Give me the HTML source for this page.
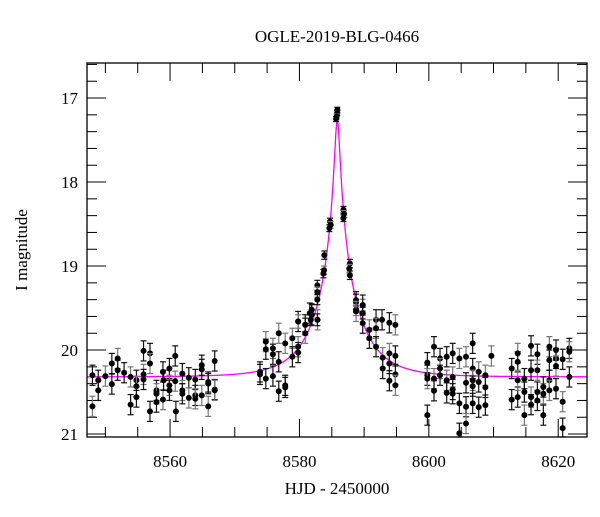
<!DOCTYPE html>
<html><head><meta charset="utf-8"><style>
body{margin:0;background:#fff;}
svg text{font-family:"Liberation Serif",serif;fill:#000;}
</style></head><body>
<svg id="chart" width="600" height="512" viewBox="0 0 600 512">
<text x="337" y="42" font-size="17" text-anchor="middle">OGLE-2019-BLG-0466</text>
<text x="337" y="494" font-size="17" text-anchor="middle">HJD - 2450000</text>
<text transform="translate(27,250) rotate(-90)" font-size="17" text-anchor="middle">I magnitude</text>
<g id="ticks"></g><g id="model"></g><g id="pts"></g>
<rect x="87" y="63" width="500" height="374" fill="none" stroke="#000" stroke-width="1.3"/>
</svg>
<script>
const times=[8548.0,8548.0,8548.9,8548.9,8550.0,8551.0,8551.0,8551.9,8551.9,8552.9,8553.9,8553.9,8554.8,8554.8,8554.8,8555.9,8555.9,8555.9,8556.9,8556.9,8556.9,8557.9,8557.9,8557.9,8558.9,8558.9,8559.0,8559.9,8559.9,8559.9,8560.8,8560.8,8560.9,8561.9,8561.9,8561.9,8562.9,8562.9,8563.9,8563.9,8563.9,8564.9,8564.9,8564.9,8565.9,8565.9,8565.9,8566.9,8566.9,8566.9,
8573.9,8573.9,8574.8,8574.8,8574.8,8575.9,8575.9,8575.9,8576.8,8576.8,8576.8,8577.8,8577.8,8577.8,8578.9,8578.9,8579.8,8579.8,8579.8,8580.9,8580.9,8581.6,8581.9,8582.8,
8585.86,8585.83,8585.75,8585.66,8584.73,8584.83,8584.63,8586.8,8586.9,8586.8,8583.85,8583.8,8583.7,8587.8,8587.7,8587.8,8582.77,8582.77,8582.77,8588.75,8588.75,8581.9,8581.75,8579.8,8580.9,8582.77,8589.78,8589.78,
8588.75,8588.75,8589.78,8589.78,8590.81,8590.81,8591.84,8591.84,8591.84,8592.77,8592.87,8592.87,8593.90,8593.90,8593.90,8593.90,8594.83,8594.83,8594.83,8594.83,
8599.77,8599.77,8599.77,8599.77,8600.80,8600.80,8600.80,8601.73,8601.73,8601.73,8602.76,8602.76,8602.76,8603.69,8603.69,8603.69,8603.69,8604.72,8604.72,8604.72,8605.75,8605.75,8605.75,8605.75,8606.78,8606.78,8606.78,8606.78,8606.78,8607.71,8607.71,8607.71,8608.74,8608.74,8608.74,8609.67,
8612.81,8612.81,8613.74,8613.74,8613.74,8613.74,8614.77,8614.77,8614.77,8615.80,8615.80,8615.80,8615.80,8616.78,8616.78,8616.78,8616.78,8617.70,8617.70,8617.70,8618.63,8618.63,8618.63,8618.63,8619.66,8619.66,8619.66,8619.66,8620.69,8620.69,8620.69,8621.72,8621.72,8621.72];
const mags=[20.30,20.67,20.36,20.48,20.31,20.16,20.405,20.10,20.24,20.27,20.32,20.65,20.36,20.43,20.56,20.01,20.29,20.35,20.04,20.16,20.73,20.48,20.52,20.62,20.26,20.59,20.36,20.22,20.42,20.48,20.07,20.37,20.73,20.28,20.48,20.52,20.33,20.57,20.35,20.54,20.58,20.18,20.23,20.54,20.38,20.40,20.67,20.13,20.47,20.48,
20.26,20.29,19.90,19.99,20.34,19.98,20.05,20.31,19.80,20.14,20.49,19.92,20.42,20.445,19.86,20.08,19.66,19.96,20.03,19.70,19.80,19.56,19.58,19.64,
17.14,17.18,17.22,17.25,18.47,18.51,18.55,18.33,18.38,18.43,18.87,19.05,19.09,18.97,19.03,19.11,19.23,19.31,19.40,19.405,19.52,19.52,19.64,19.66,19.70,19.64,19.465,19.56,
19.425,19.54,19.465,19.68,19.76,19.86,19.64,19.74,19.96,19.64,20.09,20.22,19.675,20.04,20.16,20.365,19.70,20.07,20.29,20.42,
20.15,20.30,20.34,20.775,19.96,20.34,20.485,20.10,20.22,20.30,20.08,20.36,20.51,20.04,20.32,20.47,20.52,20.10,20.635,20.99,20.08,20.39,20.675,20.875,19.92,20.22,20.36,20.43,20.635,20.26,20.38,20.68,20.30,20.445,20.655,20.07,
20.22,20.59,20.04,20.14,20.56,20.36,20.34,20.50,20.775,19.95,20.24,20.56,20.65,20.05,20.24,20.50,20.60,20.52,20.775,20.44,19.96,20.12,20.36,20.48,20.00,20.10,20.19,20.46,20.11,20.615,20.93,19.98,20.02,20.32];
const errs=times.map((t,i)=>0);
// per-point errors (mag): baseline ~0.12, peak region smaller
const errBase=0.12, errPeak=[0.03,0.03,0.03,0.03,0.04,0.04,0.04,0.04,0.04,0.04,0.05,0.05,0.05,0.05,0.05,0.05,0.06,0.06,0.06,0.07,0.07,0.07,0.07,0.08,0.08,0.07,0.07,0.07];
const xTicks=[8560,8580,8600,8620], yTicks=[17,18,19,20,21];
const t0=8585.85,u0=0.06,tE=6.3,fs=1.0,Ibase=20.32;
const X0=8547.16,X1=8624.45,Y0=16.583,Y1=21.035,L=87,R=587,T=63,B=437;
const sx=t=>L+(t-X0)/(X1-X0)*(R-L), sy=m=>T+(m-Y0)/(Y1-Y0)*(B-T);
const NS='http://www.w3.org/2000/svg';
function mk(tag,a,p){const e=document.createElementNS(NS,tag);for(const k in a)e.setAttribute(k,a[k]);p.appendChild(e);return e;}
const tg=document.getElementById('ticks');
for(let v=8550;v<=8624;v+=5){const major=v%20===0,len=major?18:10,x=sx(v);
 const a=mk('line',{x1:x,x2:x,y1:B,y2:B-len,stroke:'#000','stroke-width':1},tg);
 
 const b=mk('line',{x1:x,x2:x,y1:T,y2:T+len,stroke:'#000','stroke-width':1},tg);
 }
xTicks.forEach(v=>{const t=mk('text',{x:sx(v),y:B+30,'font-size':17,'text-anchor':'middle'},tg);t.textContent=v;
 });
for(let k=0;k<=22;k++){const v=16.6+k*0.2;if(v>21.03)break;const major=Math.abs(v-Math.round(v))<1e-6,len=major?19:10,y=sy(v);
 const a=mk('line',{x1:L,x2:L+len,y1:y,y2:y,stroke:'#000','stroke-width':1},tg);
 
 const b=mk('line',{x1:R,x2:R-len,y1:y,y2:y,stroke:'#000','stroke-width':1},tg);
 }
yTicks.forEach(v=>{const t=mk('text',{x:78,y:sy(v)+6,'font-size':17,'text-anchor':'end'},tg);t.textContent=v;
 });
// model
let d='';for(let t=X0;t<=X1;t+=0.02){const u=Math.sqrt(u0*u0+((t-t0)/tE)**2);const A=(u*u+2)/(u*Math.sqrt(u*u+4));
 const m=Ibase-2.5*Math.log10(fs*(A-1)+1);d+=(d?'L':'M')+sx(t).toFixed(2)+','+sy(m).toFixed(2);}
const ml=mk('path',{d:d,fill:'none',stroke:'#ff00ff','stroke-width':1.3},document.getElementById('model'));

const pg=document.getElementById('pts');
times.forEach((t,i)=>{const e=(i>=74&&i<102)?errPeak[i-74]:errBase;const x=sx(t),y=sy(mags[i]);
 const col=i%3===1?'#777':'#111';
 const g=mk('g',{},pg);
 
 const ya=Math.max(T,sy(mags[i]-e)),yb=Math.min(B,sy(mags[i]+e));
 mk('line',{x1:x,x2:x,y1:ya,y2:yb,stroke:col,'stroke-width':1.2},g);
 mk('line',{x1:x-3,x2:x+3,y1:ya,y2:ya,stroke:col,'stroke-width':1.2},g);
 mk('line',{x1:x-3,x2:x+3,y1:yb,y2:yb,stroke:col,'stroke-width':1.2},g);
 mk('circle',{cx:x,cy:y,r:3,fill:'#000'},g);});
</script>
</body></html>
